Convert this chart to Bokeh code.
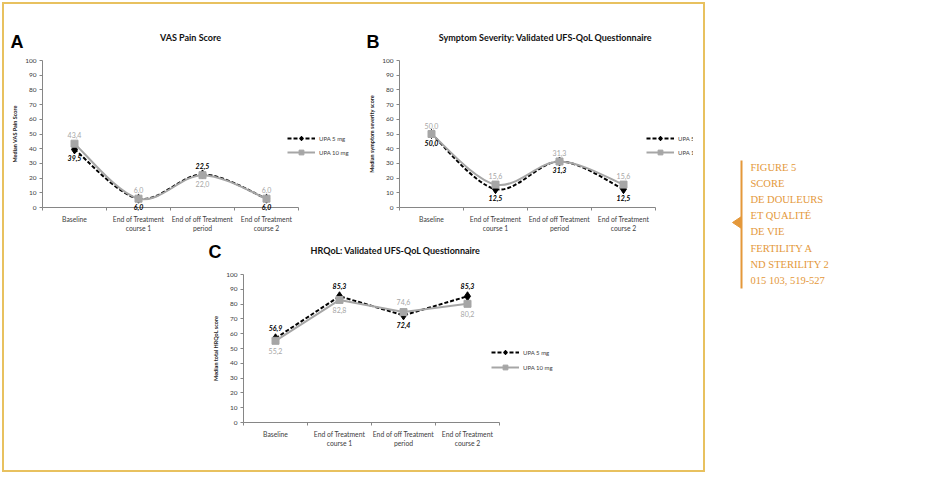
from bokeh.plotting import figure
from bokeh.models import (ColumnDataSource, Range1d, FixedTicker, LabelSet, Label,
                          Legend, LegendItem, Spacer)
from bokeh.layouts import row, column
from bokeh.core.properties import value
from bokeh.embed import file_html
from bokeh.resources import INLINE

# ---------------- data ----------------
categories = ["Baseline", "End of Treatment\ncourse 1",
              "End of off Treatment\nperiod", "End of Treatment\ncourse 2"]
series_names = ["UPA 5 mg", "UPA 10 mg"]
y_ticks = [0, 10, 20, 30, 40, 50, 60, 70, 80, 90, 100]

vas_5mg = [39.5, 6.0, 22.5, 6.0]
vas_10mg = [43.4, 6.0, 22.0, 6.0]
sev_5mg = [50.0, 12.5, 31.3, 12.5]
sev_10mg = [50.0, 15.6, 31.3, 15.6]
hrq_5mg = [56.9, 85.3, 72.4, 85.3]
hrq_10mg = [55.2, 82.8, 74.6, 80.2]

# where each data label sits relative to its point
vas_5mg_pos = ["below", "below", "above", "below"]
vas_10mg_pos = ["above", "above", "below", "above"]
sev_5mg_pos = ["below", "below", "below", "below"]
sev_10mg_pos = ["above", "above", "above", "above"]
hrq_5mg_pos = ["above", "above", "below", "above"]
hrq_10mg_pos = ["below", "below", "above", "below"]

caption_lines = ["FIGURE 5", "SCORE", "DE DOULEURS", "ET QUALITÉ", "DE VIE",
                 "FERTILITY A", "ND STERILITY 2", "015 103, 519-527"]

# ---------------- styles ----------------
FONT = "Lato"
AXIS_COL = "#868686"
TICK_TXT = "#404040"
GREY = "#A6A6A6"
ORANGE = "#E4983A"
BORDER = "#E8C15F"


def fmt(v):
    return f"{v:.1f}".replace(".", ",")


def bezier_source(xs, ys):
    pts = list(zip(xs, ys))
    n = len(pts)
    d = dict(x0=[], y0=[], x1=[], y1=[], cx0=[], cy0=[], cx1=[], cy1=[])
    for i in range(n - 1):
        p0 = pts[i - 1] if i > 0 else pts[i]
        p1 = pts[i]
        p2 = pts[i + 1]
        p3 = pts[i + 2] if i + 2 < n else pts[i + 1]
        d["x0"].append(p1[0]); d["y0"].append(p1[1])
        d["x1"].append(p2[0]); d["y1"].append(p2[1])
        d["cx0"].append(p1[0] + (p2[0] - p0[0]) / 6)
        d["cy0"].append(p1[1] + (p2[1] - p0[1]) / 6)
        d["cx1"].append(p2[0] - (p3[0] - p1[0]) / 6)
        d["cy1"].append(p2[1] - (p3[1] - p1[1]) / 6)
    return ColumnDataSource(d)


def make_panel(letter, title, ylabel, s5, s10, pos5, pos10, smooth,
               fig_box, plot_box, title_px, letter_px, legend_px,
               label_off, leg_spacing):
    # fig_box: (left, top, width, height) in page pixels
    # plot_box: (left, right, top, bottom) pixel extent of the data area
    fl, ft, fw, fh = fig_box
    pl, pr, pt, pb = plot_box
    ncat = len(categories)
    kx = (pr - pl) / ncat           # px per category
    ky = (pb - pt) / 100.0          # px per unit

    def dx(px):
        return -0.5 + (px - pl) / kx

    def dy(py):
        return (pb - py) / ky

    p = figure(width=fw, height=fh,
               x_range=Range1d(dx(fl), dx(fl + fw)),
               y_range=Range1d(dy(ft + fh), dy(ft)),
               output_backend="svg", toolbar_location=None, min_border=0)
    p.outline_line_color = None
    p.grid.grid_line_color = None
    p.background_fill_color = "white"
    p.border_fill_color = "white"

    xs = list(range(ncat))

    # y axis
    yax = p.yaxis[0]
    yax.fixed_location = -0.5
    yax.bounds = (0, 100)
    yax.ticker = FixedTicker(ticks=y_ticks, minor_ticks=[])
    yax.axis_line_color = AXIS_COL
    yax.major_tick_line_color = AXIS_COL
    yax.major_tick_in = 0
    yax.major_tick_out = 3
    yax.major_label_standoff = 3
    yax.major_label_text_font = FONT
    yax.major_label_text_font_size = "6.5px"
    yax.major_label_text_color = TICK_TXT
    yax.axis_label = ylabel
    yax.axis_label_text_font = FONT
    yax.axis_label_text_font_size = "5.5px"
    yax.axis_label_text_font_style = "bold"
    yax.axis_label_text_color = "#222222"
    yax.axis_label_standoff = 4

    # x axis
    xax = p.xaxis[0]
    xax.fixed_location = 0
    xax.bounds = (-0.5, ncat - 0.5)
    xax.ticker = FixedTicker(ticks=xs, minor_ticks=[i - 0.5 for i in range(ncat + 1)])
    xax.major_label_overrides = {i: c for i, c in enumerate(categories)}
    xax.axis_line_color = AXIS_COL
    xax.major_tick_line_color = None
    xax.major_tick_in = 0
    xax.major_tick_out = 0
    xax.minor_tick_line_color = AXIS_COL
    xax.minor_tick_in = 0
    xax.minor_tick_out = 3
    xax.major_label_standoff = 4
    xax.major_label_text_font = FONT
    xax.major_label_text_font_size = "6.8px"
    xax.major_label_text_color = TICK_TXT

    # lines
    if smooth:
        l5 = p.bezier(x0="x0", y0="y0", x1="x1", y1="y1", cx0="cx0", cy0="cy0",
                      cx1="cx1", cy1="cy1", source=bezier_source(xs, s5),
                      line_color="black", line_width=2, line_dash="4 2")
        l10 = p.bezier(x0="x0", y0="y0", x1="x1", y1="y1", cx0="cx0", cy0="cy0",
                       cx1="cx1", cy1="cy1", source=bezier_source(xs, s10),
                       line_color=GREY, line_width=2)
    else:
        l5 = p.line(xs, s5, line_color="black", line_width=2, line_dash="4 2")
        l10 = p.line(xs, s10, line_color=GREY, line_width=2)
    m5 = p.scatter(xs, s5, marker="diamond", size=9, fill_color="black", line_color="black")
    m10 = p.scatter(xs, s10, marker="square", size=7, fill_color=GREY, line_color=GREY)
    p.renderers = [l5, m5, l10, m10]

    # data labels
    for vals, pos, col, style in ((s5, pos5, "black", "bold italic"),
                                  (s10, pos10, GREY, "normal")):
        src = ColumnDataSource(dict(
            x=xs, y=vals, t=[fmt(v) for v in vals],
            dy=[label_off if q == "above" else -label_off for q in pos]))
        p.add_layout(LabelSet(x="x", y="y", text="t", y_offset="dy", source=src,
                              text_align="center", text_baseline="middle",
                              text_font=value(FONT), text_font_size=value("7px"),
                              text_font_style=style, text_color=col))

    p.add_layout(Label(x=dx(title_px[0]), y=dy(title_px[1]), text=title,
                       text_align="center", text_baseline="middle",
                       text_font=FONT, text_font_size="9px",
                       text_font_style="bold", text_color="#111111"))
    p.add_layout(Label(x=dx(letter_px[0]), y=dy(letter_px[1]), text=letter,
                       text_align="left", text_baseline="alphabetic",
                       text_font="Liberation Sans", text_font_size="18px",
                       text_font_style="bold", text_color="black"))

    gh = 12
    leg_bottom = legend_px[1] - gh / 2 + 2 * gh + leg_spacing
    legend = Legend(items=[LegendItem(label=series_names[0], renderers=[l5, m5]),
                           LegendItem(label=series_names[1], renderers=[l10, m10])],
                    location=(legend_px[0] - fl, ft + fh - leg_bottom),
                    glyph_width=28, glyph_height=gh,
                    label_height=gh, label_standoff=4, spacing=leg_spacing,
                    padding=0, margin=0, border_line_color=None,
                    background_fill_alpha=0,
                    label_text_font=FONT, label_text_font_size="6px",
                    label_text_color=TICK_TXT)
    p.add_layout(legend)
    return p


pA = make_panel("A", "VAS Pain Score", "Median VAS Pain Score",
                vas_5mg, vas_10mg, vas_5mg_pos, vas_10mg_pos, True,
                fig_box=(4, 4, 356, 234), plot_box=(42, 298, 60, 207),
                title_px=(190, 37), letter_px=(10, 41), legend_px=(287, 138),
                label_off=8.5, leg_spacing=2)
pB = make_panel("B", "Symptom Severity: Validated UFS-QoL Questionnaire",
                "Median symptom severity score",
                sev_5mg, sev_10mg, sev_5mg_pos, sev_10mg_pos, True,
                fig_box=(360, 4, 333, 234), plot_box=(399, 655, 60, 207),
                title_px=(545, 37), letter_px=(366, 41), legend_px=(646, 138),
                label_off=8.5, leg_spacing=2)
pC = make_panel("C", "HRQoL: Validated UFS-QoL Questionnaire", "Median total HRQoL score",
                hrq_5mg, hrq_10mg, hrq_5mg_pos, hrq_10mg_pos, False,
                fig_box=(200, 238, 420, 232), plot_box=(243, 499, 274, 422),
                title_px=(395, 250), letter_px=(208, 251), legend_px=(491, 352),
                label_off=10, leg_spacing=3)

# caption panel (coordinates are page pixels)
cap = figure(width=190, height=470, x_range=Range1d(705, 895), y_range=Range1d(472, 2),
             output_backend="svg", toolbar_location=None,
             x_axis_location=None, y_axis_location=None, min_border=0)
cap.outline_line_color = None
cap.grid.grid_line_color = None
cap.segment(x0=[741], y0=[160], x1=[741], y1=[288], line_color=ORANGE, line_width=2)
cap.patch([741, 732, 741], [216, 222, 228], fill_color=ORANGE, line_color=ORANGE)
cap_y = [167 + 16.1 * i for i in range(len(caption_lines))]
cap.text(x=[750] * len(caption_lines), y=cap_y, text=caption_lines,
         text_font=value("Liberation Serif"), text_font_size=value("10.5px"),
         text_color=ORANGE, text_align="left", text_baseline="middle")

top = row(pA, pB, Spacer(width=10, height=234))
bottom = row(Spacer(width=196, height=232), pC, Spacer(width=83, height=232))
box = column(top, bottom, styles={"border": f"2px solid {BORDER}", "background-color": "white"})
layout = row(Spacer(width=2, height=474), column(Spacer(width=880, height=2), row(box, cap)))

open("out.html", "w").write(file_html(layout, INLINE))
